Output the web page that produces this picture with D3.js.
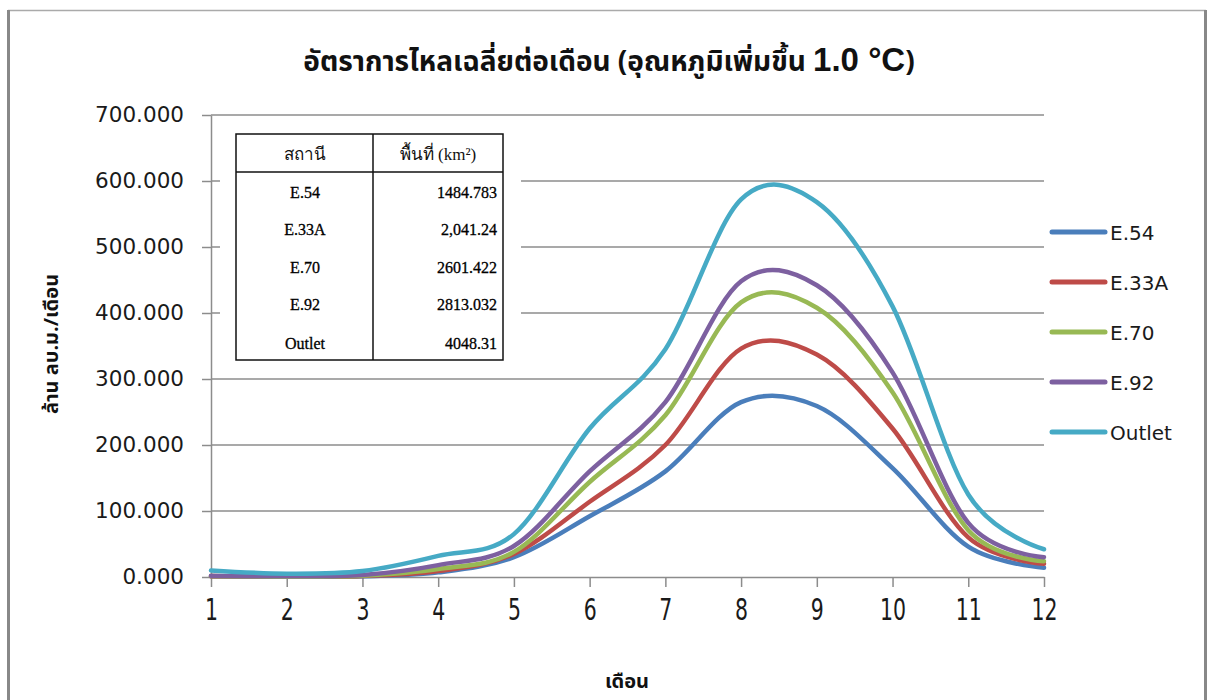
<!DOCTYPE html>
<html><head><meta charset="utf-8">
<script src="https://cdn.jsdelivr.net/npm/d3@7"></script>
<style>body{margin:0;background:#fff}svg{display:block}</style>
</head><body>
<svg id="c" width="1208" height="700"></svg>
<script>
const months = [1,2,3,4,5,6,7,8,9,10,11,12];
const seriesNames = ["E.54","E.33A","E.70","E.92","Outlet"];
const e54    = [1, 0.5, 1, 7, 30, 92, 160, 265, 259, 165, 46, 14];
const e33a   = [1, 0.5, 1.5, 9, 35, 114, 200, 346, 337, 225, 60, 20];
const e70    = [1.5, 0.5, 2, 12, 38, 144, 245, 416, 408, 280, 71, 24];
const e92    = [2, 1, 3, 18, 47, 160, 265, 448, 442, 310, 82, 30];
const outlet = [10, 5, 9, 32, 65, 225, 345, 572, 568, 410, 125, 42];
const colors = ["#4A7EBB","#BE4B48","#98B954","#7D60A0","#46AAC5"];
const yTicks = [0,100,200,300,400,500,600,700];
const tableHead = ["สถานี","พื้นที่ (km²)"];
const tableStations = ["E.54","E.33A","E.70","E.92","Outlet"];
const tableAreas = ["1484.783","2,041.24","2601.422","2813.032","4048.31"];
const titleMain = "อัตราการไหลเฉลี่ยต่อเดือน (อุณหภูมิเพิ่มขึ้น ";
const titleTail = "1.0 °C";
const xTitle = "เดือน";
const yTitle = "ล้าน ลบ.ม./เดือน";

const data = [e54,e33a,e70,e92,outlet];
const svg = d3.select("#c");
const thai = "Tahoma, 'Noto Sans Thai', 'Noto Sans Thai UI', 'Loma', 'Garuda', 'DejaVu Sans', sans-serif";

// outer frame
svg.append("line").attr("x1",8).attr("x2",1206).attr("y1",10.5).attr("y2",10.5).attr("stroke","#aaa").attr("stroke-width",1.5);
svg.append("line").attr("x1",8.5).attr("x2",8.5).attr("y1",10).attr("y2",700).attr("stroke","#888").attr("stroke-width",3);
svg.append("line").attr("x1",1205.5).attr("x2",1205.5).attr("y1",10).attr("y2",700).attr("stroke","#888").attr("stroke-width",3);

const x = d3.scaleLinear().domain([1,12]).range([211,1044]);
const y = d3.scaleLinear().domain([0,700]).range([577,115]);

// gridlines
svg.append("g").selectAll("line").data(yTicks.filter(d=>d>0)).join("line")
  .attr("x1",211).attr("x2",1044).attr("y1",d=>y(d)).attr("y2",d=>y(d))
  .attr("stroke","#8c8c8c").attr("stroke-width",1.5);

// y axis
const ya = svg.append("g").attr("transform","translate(211,0)")
  .call(d3.axisLeft(y).tickValues(yTicks).tickSize(9).tickSizeOuter(0).tickPadding(18).tickFormat(d3.format(".3f")));
ya.select(".domain").attr("stroke","#8c8c8c").attr("stroke-width",1.5);
ya.selectAll(".tick line").attr("stroke","#8c8c8c").attr("stroke-width",1.5);
ya.selectAll("text").attr("font-family","'DejaVu Sans', sans-serif").attr("font-size",21.5).attr("fill","#1a1a1a");

// x axis
const xa = svg.append("g").attr("transform","translate(0,577)")
  .call(d3.axisBottom(x).tickValues(months).tickSize(10).tickSizeOuter(0).tickFormat(""));
xa.select(".domain").attr("stroke","#8c8c8c").attr("stroke-width",1.5);
xa.selectAll(".tick line").attr("stroke","#8c8c8c").attr("stroke-width",1.5);
xa.selectAll(".tick").append("text")
  .attr("transform","translate(0,43) scale(0.66,1)")
  .attr("text-anchor","middle").attr("font-family","'DejaVu Sans', sans-serif").attr("font-size",31)
  .attr("fill","#1a1a1a").text(d=>d);

// lines
const line = d3.line().x((d,i)=>x(months[i])).y(d=>y(d)).curve(d3.curveCardinal.tension(0));
svg.append("g").selectAll("path").data(data).join("path")
  .attr("d",d=>line(d)).attr("fill","none").attr("stroke",(d,i)=>colors[i])
  .attr("stroke-width",4.5).attr("stroke-linejoin","round").attr("stroke-linecap","round");

// table
const tb = svg.append("g");
tb.append("rect").attr("x",220).attr("y",118).attr("width",301).attr("height",254).attr("fill","#fff");
tb.append("rect").attr("x",236).attr("y",134).attr("width",267).attr("height",226).attr("fill","none").attr("stroke","#111").attr("stroke-width",1.5);
tb.append("line").attr("x1",373).attr("x2",373).attr("y1",134).attr("y2",360).attr("stroke","#111").attr("stroke-width",1.5);
tb.append("line").attr("x1",236).attr("x2",503).attr("y1",172).attr("y2",172).attr("stroke","#111").attr("stroke-width",1.5);
tb.selectAll(".h").data(tableHead).join("text").attr("class","h")
  .attr("x",(d,i)=>i===0?305:438).attr("y",160).attr("text-anchor","middle")
  .attr("font-family","'Liberation Serif', serif").attr("font-size",17).attr("fill","#111").text(d=>d);
const rowY = [193,230,268,305,344];
tb.selectAll(".s").data(tableStations).join("text").attr("class","s")
  .attr("x",305).attr("y",(d,i)=>rowY[i]+5).attr("text-anchor","middle")
  .attr("font-family","'Liberation Serif', serif").attr("font-size",16).attr("fill","#000")
  .attr("stroke","#000").attr("stroke-width",0.3).text(d=>d);
tb.selectAll(".a").data(tableAreas).join("text").attr("class","a")
  .attr("x",497).attr("y",(d,i)=>rowY[i]+5).attr("text-anchor","end")
  .attr("font-family","'Liberation Serif', serif").attr("font-size",16).attr("fill","#000")
  .attr("stroke","#000").attr("stroke-width",0.3).text(d=>d);

// legend
const lg = svg.append("g").selectAll("g").data(seriesNames).join("g")
  .attr("transform",(d,i)=>`translate(1050,${232+i*50})`);
lg.append("line").attr("x1",2).attr("x2",55).attr("stroke",(d,i)=>colors[i]).attr("stroke-width",5).attr("stroke-linecap","round");
lg.append("text").attr("x",60).attr("y",7.5).attr("font-family","'DejaVu Sans', sans-serif").attr("font-size",20).attr("fill","#1a1a1a").text(d=>d);

// title
const t = svg.append("text").attr("x",609).attr("y",71).attr("text-anchor","middle")
  .attr("font-family",thai).attr("font-weight","bold").attr("font-size",28).attr("fill","#111");
t.append("tspan").text(titleMain);
t.append("tspan").attr("font-size",33).attr("font-family","'Liberation Sans', sans-serif").text(titleTail);
t.append("tspan").text(")");

// axis titles
svg.append("text").attr("x",627).attr("y",688).attr("text-anchor","middle")
  .attr("font-family",thai).attr("font-weight","bold").attr("font-size",20).attr("fill","#111").text(xTitle);
svg.append("text").attr("transform","translate(58,344) rotate(-90)").attr("text-anchor","middle")
  .attr("font-family",thai).attr("font-weight","bold").attr("font-size",20).attr("fill","#111").text(yTitle);
</script>
</body></html>
